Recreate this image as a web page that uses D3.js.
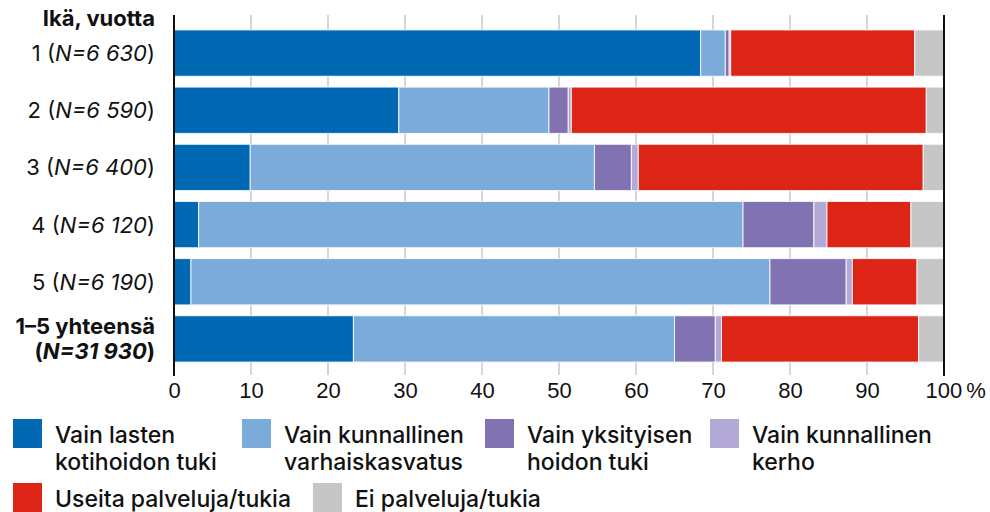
<!DOCTYPE html>
<html lang="fi">
<head>
<meta charset="UTF-8">
<title>Palvelut ja tuet iän mukaan</title>
<script src="https://d3js.org/d3.v7.min.js"></script>
<style>
    body { margin: 0; background: #fff; }
    svg { font-family: Inter, "Noto Sans", sans-serif; }
    .tick text { font-size: 22px; fill: #111; }
</style>
</head>
<body>
<script>
    // rivit (ikäryhmät)
    const ages = ['1', '2', '3', '4', '5', '1–5 yhteensä'];
    const counts = ['6 630', '6 590', '6 400', '6 120', '6 190', '31 930'];

    // sarjat
    const series = ['Vain lasten kotihoidon tuki', 'Vain kunnallinen varhaiskasvatus',
        'Vain yksityisen hoidon tuki', 'Vain kunnallinen kerho',
        'Useita palveluja/tukia', 'Ei palveluja/tukia'];
    const colors = ['#0168b3', '#7aabdb', '#8173b2', '#b3a9d6', '#dc2517', '#c6c6c6'];

    // osuudet % (luettu kuvasta), yksi lista per sarja
    const kotihoito   = [68.4, 29.2,  9.9,  3.2,  2.2, 23.3];
    const kunnallinen = [ 3.2, 19.5, 44.7, 70.7, 75.2, 41.7];
    const yksityinen  = [ 0.5,  2.5,  4.8,  9.2,  9.9,  5.3];
    const kerho       = [ 0.2,  0.4,  0.9,  1.7,  0.8,  0.8];
    const useita      = [23.9, 46.1, 37.0, 10.9,  8.4, 25.6];
    const ei          = [ 3.8,  2.3,  2.7,  4.3,  3.5,  3.3];

    const xTicks = [0, 10, 20, 30, 40, 50, 60, 70, 80, 90, 100];

    const w = 990, h = 512;
    const left = 174, right = 944;

    const rows = ages.map((a, i) => ({
        age: a, n: counts[i],
        vals: [kotihoito[i], kunnallinen[i], yksityinen[i], kerho[i], useita[i], ei[i]]
    }));
    const stacked = d3.stack()
        .keys(d3.range(series.length))
        .value((d, k) => d.vals[k])(rows);

    const x = d3.scaleLinear().domain([0, 100]).range([left, right]);
    const y = d3.scaleBand().domain(ages).range([24.5, 367.5])
        .paddingInner(0.19).paddingOuter(0.095);

    const svg = d3.select('body').append('svg')
        .attr('width', w).attr('height', h);

    // gridlines
    svg.append('g').selectAll('line')
        .data(xTicks.slice(1, -1))
        .enter().append('line')
        .attr('x1', d => x(d)).attr('x2', d => x(d))
        .attr('y1', 15).attr('y2', 375)
        .attr('stroke', '#c8c8c8').attr('stroke-width', 1.5);

    // bars
    svg.append('g').selectAll('g')
        .data(stacked)
        .enter().append('g')
        .attr('fill', (d, i) => colors[i])
        .selectAll('rect')
        .data(d => d)
        .enter().append('rect')
        .attr('x', d => x(d[0]))
        .attr('width', d => x(d[1]) - x(d[0]))
        .attr('y', d => y(d.data.age))
        .attr('height', y.bandwidth())
        .attr('stroke', '#fff')
        .attr('stroke-opacity', 0.85)
        .attr('stroke-width', 1);

    // axis lines at 0 and 100
    svg.append('g').selectAll('line')
        .data([0, 100])
        .enter().append('line')
        .attr('x1', d => x(d)).attr('x2', d => x(d))
        .attr('y1', 15).attr('y2', 376)
        .attr('stroke', '#111').attr('stroke-width', 2);

    // x axis labels
    const xAxis = d3.axisBottom(x).tickValues(xTicks).tickSize(0).tickPadding(0);
    const gx = svg.append('g')
        .attr('transform', 'translate(0,382)')
        .call(xAxis);
    gx.select('.domain').remove();
    gx.selectAll('.tick text').attr('dy', '0.71em');
    gx.selectAll('.tick').filter(d => d === 100).select('text')
        .append('tspan').text('%').attr('dx', 4);
    gx.selectAll('.tick').filter(d => d === 100).select('text')
        .attr('text-anchor', 'start').attr('x', -19);

    // y labels
    svg.append('text')
        .attr('x', 155).attr('y', 26)
        .attr('text-anchor', 'end')
        .attr('font-size', 22).attr('font-weight', 700).attr('fill', '#111')
        .text('Ikä, vuotta');

    rows.forEach((r, i) => {
        const cy = y(r.age) + y.bandwidth() / 2;
        if (i < rows.length - 1) {
            const t = svg.append('text')
                .attr('x', 155).attr('y', cy + 8)
                .attr('text-anchor', 'end')
                .attr('font-size', 22).attr('fill', '#111');
            t.append('tspan').text(r.age + ' (');
            t.append('tspan').attr('font-style', 'italic').text('N=' + r.n);
            t.append('tspan').text(')');
        } else {
            svg.append('text')
                .attr('x', 155).attr('y', cy - 5)
                .attr('text-anchor', 'end')
                .attr('font-size', 22).attr('font-weight', 700).attr('fill', '#111')
                .text(r.age);
            const t = svg.append('text')
                .attr('x', 155).attr('y', cy + 20)
                .attr('text-anchor', 'end')
                .attr('font-size', 22).attr('font-weight', 700).attr('fill', '#111');
            t.append('tspan').text('(');
            t.append('tspan').attr('font-style', 'italic').text('N=' + r.n);
            t.append('tspan').text(')');
        }
    });

    // legend
    const legendPos = [[13, 419], [242, 419], [485, 419], [710, 419], [13, 483], [313, 483]];
    const legendLines = [['Vain lasten', 'kotihoidon tuki'], ['Vain kunnallinen', 'varhaiskasvatus'],
        ['Vain yksityisen', 'hoidon tuki'], ['Vain kunnallinen', 'kerho'],
        ['Useita palveluja/tukia'], ['Ei palveluja/tukia']];
    const legend = svg.append('g').selectAll('g')
        .data(series)
        .enter().append('g')
        .attr('transform', (d, i) => `translate(${legendPos[i][0]},${legendPos[i][1]})`);
    legend.append('rect')
        .attr('width', 29).attr('height', 29)
        .attr('fill', (d, i) => colors[i]);
    legend.append('text')
        .attr('x', 42).attr('y', 24)
        .attr('font-size', 23).attr('font-weight', 500).attr('fill', '#111')
        .selectAll('tspan')
        .data((d, i) => legendLines[i])
        .enter().append('tspan')
        .attr('x', 42)
        .attr('dy', (d, j) => j === 0 ? 0 : 27)
        .text(d => d);
</script>
</body>
</html>
